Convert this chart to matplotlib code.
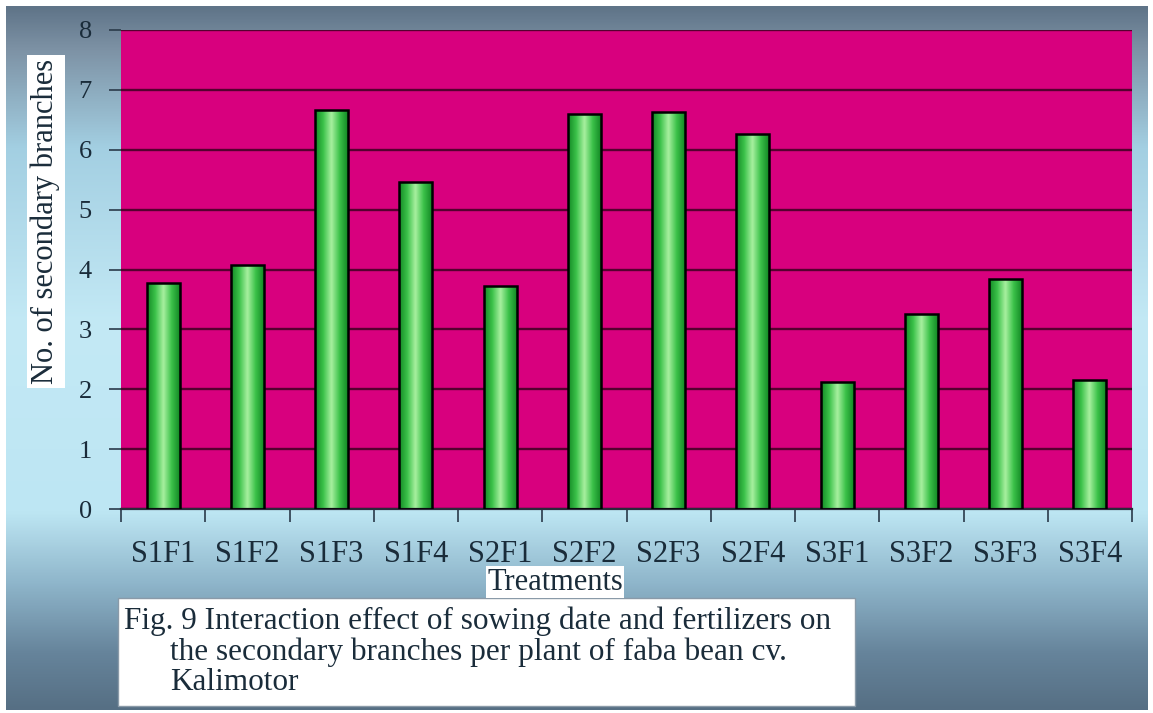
import numpy as np
import matplotlib.pyplot as plt
from matplotlib.colors import LinearSegmentedColormap
from matplotlib.patches import Rectangle

treatments = ["S1F1", "S1F2", "S1F3", "S1F4", "S2F1", "S2F2",
              "S2F3", "S2F4", "S3F1", "S3F2", "S3F3", "S3F4"]
branches = [3.78, 4.08, 6.66, 5.46, 3.72, 6.59, 6.63, 6.27, 2.12, 3.26, 3.84, 2.15]
y_ticks = [0, 1, 2, 3, 4, 5, 6, 7, 8]

serif = "Liberation Serif"
text_color = "#1a2c3a"

fig = plt.figure(figsize=(11.53, 7.13), dpi=100, facecolor="white")

# slate -> pale cyan -> slate backdrop
bg_cmap = LinearSegmentedColormap.from_list("backdrop", [
    (0.00, "#5f7488"), (0.06, "#7d92a5"), (0.20, "#a3cfe2"),
    (0.45, "#c3e9f5"), (0.72, "#bde6f3"), (0.82, "#8fb6cb"),
    (0.92, "#66849b"), (1.00, "#566f84")])
bg = fig.add_axes([6 / 1153, 3 / 713, 1142 / 1153, 704 / 713], zorder=0)
bg.imshow(np.linspace(0, 1, 256).reshape(-1, 1), aspect="auto", cmap=bg_cmap,
          extent=[0, 1, 0, 1])
bg.set_xlim(0, 1)
bg.set_ylim(0, 1)
bg.axis("off")

ax = fig.add_axes([121 / 1153, 204 / 713, 1011 / 1153, 479 / 713], zorder=1)
ax.set_facecolor("#d8007e")
x = np.arange(len(treatments))

ax.set_yticks(y_ticks)
ax.yaxis.grid(True, color="#55002f", linewidth=1.7)
ax.set_axisbelow(True)

# horizontal green shading inside each bar
bar_cmap = LinearSegmentedColormap.from_list("bar", [
    "#138a25", "#3cc24a", "#a8f0a0", "#3cc24a", "#138a25"])
shade = np.linspace(0, 1, 64).reshape(1, -1)
bars = ax.bar(x, branches, width=0.39, facecolor="none", edgecolor="black",
              linewidth=1.8, zorder=3)
for rect in bars:
    bx, by = rect.get_x(), rect.get_y()
    w, h = rect.get_width(), rect.get_height()
    im = ax.imshow(shade, cmap=bar_cmap, aspect="auto",
                   extent=[bx, bx + w, by, by + h], zorder=2)
    im.set_clip_path(rect)
ax.set_xlim(-0.5, len(treatments) - 0.5)
ax.set_ylim(0, 8)

for side in ["top", "right", "left"]:
    ax.spines[side].set_visible(False)
ax.spines["bottom"].set_color("#2a2a3a")
ax.spines["bottom"].set_linewidth(1.6)

ax.set_xticks(np.arange(len(treatments) + 1) - 0.5)
ax.set_xticklabels([])
ax.set_xticks(x, minor=True)
ax.set_xticklabels(treatments, minor=True, fontsize=22, family=serif,
                   color=text_color)
ax.tick_params(axis="x", which="major", length=9, width=1.2, color="#2a3a4a")
ax.tick_params(axis="x", which="minor", length=0, pad=22)
ax.tick_params(axis="y", length=9, width=1.2, color="#2a3a4a", pad=12,
               labelsize=19, labelcolor=text_color)
for lab in ax.get_yticklabels():
    lab.set_family(serif)

ax.set_ylabel("No. of secondary branches", fontsize=22, family=serif,
              color=text_color,
              bbox=dict(facecolor="white", edgecolor="none", pad=3))
ax.yaxis.set_label_coords(-0.06, 0.60)

fig.text(555 / 1153, 1 - 582 / 713, "Treatments", fontsize=22, family=serif,
         color=text_color, ha="center", va="center",
         bbox=dict(facecolor="white", edgecolor="none", pad=1))

# caption panel
fig.patches.append(Rectangle((118 / 1153, 1 - 706 / 713), 737 / 1153, 108 / 713,
                             transform=fig.transFigure, facecolor="white",
                             edgecolor="#8a9aa8", linewidth=1, zorder=2))
caption = [
    (124, 621, "Fig. 9 Interaction effect of sowing date and fertilizers on"),
    (170, 652, "the secondary branches per plant of faba bean cv."),
    (170, 683, "Kalimotor"),
]
for cx, cy, line in caption:
    fig.text(cx / 1153, 1 - cy / 713, line, fontsize=22.5, family=serif,
             color=text_color, ha="left", va="center", zorder=3)

fig.savefig("out.png", dpi=100)
